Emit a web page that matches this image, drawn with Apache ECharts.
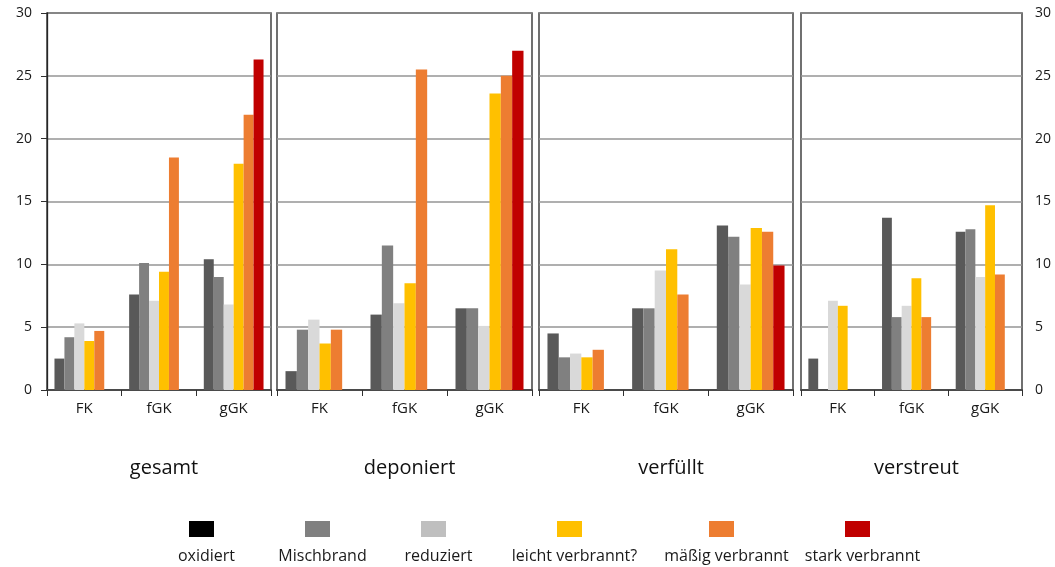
<!DOCTYPE html>
<html>
<head>
<meta charset="utf-8">
<script src="https://cdn.jsdelivr.net/npm/echarts@6/dist/echarts.min.js"></script>
<style>
  html, body { margin: 0; padding: 0; background: #fff; }
  #chart { width: 1055px; height: 567px; }
</style>
</head>
<body>
<div id="chart"></div>
<script>
// Categories along each panel's x axis
const categories = ['FK', 'fGK', 'gGK'];
// Panel titles
const panels = ['gesamt', 'deponiert', 'verfüllt', 'verstreut'];
// Burn classes (series)
const seriesNames = ['oxidiert', 'Mischbrand', 'reduziert', 'leicht verbrannt?', 'mäßig verbrannt', 'stark verbrannt'];
// Y axis ticks
const yTicks = [0, 5, 10, 15, 20, 25, 30];

// Values per panel: one row per burn class, one column per category (FK, fGK, gGK)
const gesamt = [
  [2.5, 7.6, 10.4],
  [4.2, 10.1, 9.0],
  [5.3, 7.1, 6.8],
  [3.9, 9.4, 18.0],
  [4.7, 18.5, 21.9],
  [null, null, 26.3]
];
const deponiert = [
  [1.5, 6.0, 6.5],
  [4.8, 11.5, 6.5],
  [5.6, 6.9, 5.1],
  [3.7, 8.5, 23.6],
  [4.8, 25.5, 25.0],
  [null, null, 27.0]
];
const verfuellt = [
  [4.5, 6.5, 13.1],
  [2.6, 6.5, 12.2],
  [2.9, 9.5, 8.4],
  [2.6, 11.2, 12.9],
  [3.2, 7.6, 12.6],
  [null, null, 9.9]
];
const verstreut = [
  [2.5, 13.7, 12.6],
  [null, 5.8, 12.8],
  [7.1, 6.7, 9.0],
  [6.7, 8.9, 14.7],
  [null, 5.8, 9.2],
  [null, null, null]
];
const panelValues = [gesamt, deponiert, verfuellt, verstreut];

// Styling
const barColors = ['#595959', '#808080', '#d9d9d9', '#ffc000', '#ed7d31', '#c00000'];
const legendColors = ['#000000', '#808080', '#bfbfbf', '#ffc000', '#ed7d31', '#c00000'];
const gridBoxes = [
  { left: 47, width: 224 },
  { left: 277, width: 255 },
  { left: 539, width: 254 },
  { left: 801, width: 221 }
];
const plotTop = 13, plotHeight = 377;
const legendLeft = [189, 305, 421, 557, 709, 845];
const font = '"Open Sans", "DejaVu Sans", sans-serif';

const grid = gridBoxes.map(b => ({
  left: b.left, width: b.width, top: plotTop, height: plotHeight,
  show: true, borderColor: '#262626', borderWidth: 1.3, backgroundColor: 'transparent'
}));

const xAxis = gridBoxes.map((b, i) => ({
  type: 'category', gridIndex: i, data: categories,
  axisLine: { lineStyle: { color: '#4a4a4a', width: 2 } },
  axisTick: { show: true, length: 6, lineStyle: { color: '#303030', width: 1 } },
  axisLabel: { color: '#1a1a1a', fontSize: 15, fontFamily: font, margin: 11 }
}));

const yAxis = gridBoxes.map((b, i) => {
  const first = i === 0, last = i === gridBoxes.length - 1;
  return {
    type: 'value', gridIndex: i, min: yTicks[0], max: yTicks[yTicks.length - 1],
    interval: yTicks[1] - yTicks[0],
    position: last ? 'right' : 'left',
    axisLine: { show: first, lineStyle: { color: '#262626', width: 1.3 } },
    axisTick: { show: first, length: 6, lineStyle: { color: '#303030' } },
    axisLabel: {
      show: first || last, color: '#1a1a1a', fontSize: 14, fontFamily: font,
      margin: first ? 15 : 13
    },
    splitLine: { show: true, lineStyle: { color: '#959595', width: 1.5 } }
  };
});

const series = [];
panelValues.forEach((rows, p) => {
  rows.forEach((vals, s) => {
    series.push({
      type: 'bar', name: seriesNames[s], xAxisIndex: p, yAxisIndex: p,
      data: vals, barGap: 0, barCategoryGap: '20%',
      itemStyle: { color: barColors[s] },
      emphasis: { disabled: true }
    });
  });
});

// Legend: one swatch per burn class, label set underneath
const legend = seriesNames.map((n, i) => ({
  data: [{ name: n, itemStyle: { color: legendColors[i] } }],
  left: legendLeft[i], top: 521, padding: 0,
  itemWidth: 25, itemHeight: 16, icon: 'rect',
  formatter: () => '', selectedMode: false
}));

const titles = panels.map((t, i) => ({
  text: t, left: gridBoxes[i].left + gridBoxes[i].width / 2, top: 453, textAlign: 'center',
  textStyle: { fontSize: 20, fontWeight: 'normal', color: '#111', fontFamily: font }
})).concat(seriesNames.map((n, i) => ({
  text: n, left: legendLeft[i] + 12.5, top: 543, textAlign: 'center',
  textStyle: { fontSize: 16, fontWeight: 'normal', color: '#1a1a1a', fontFamily: font }
})));

const chart = echarts.init(document.getElementById('chart'), null, { renderer: 'canvas' });
chart.setOption({
  animation: false,
  backgroundColor: '#ffffff',
  title: titles,
  legend: legend,
  grid: grid,
  xAxis: xAxis,
  yAxis: yAxis,
  series: series
});
</script>
</body>
</html>
